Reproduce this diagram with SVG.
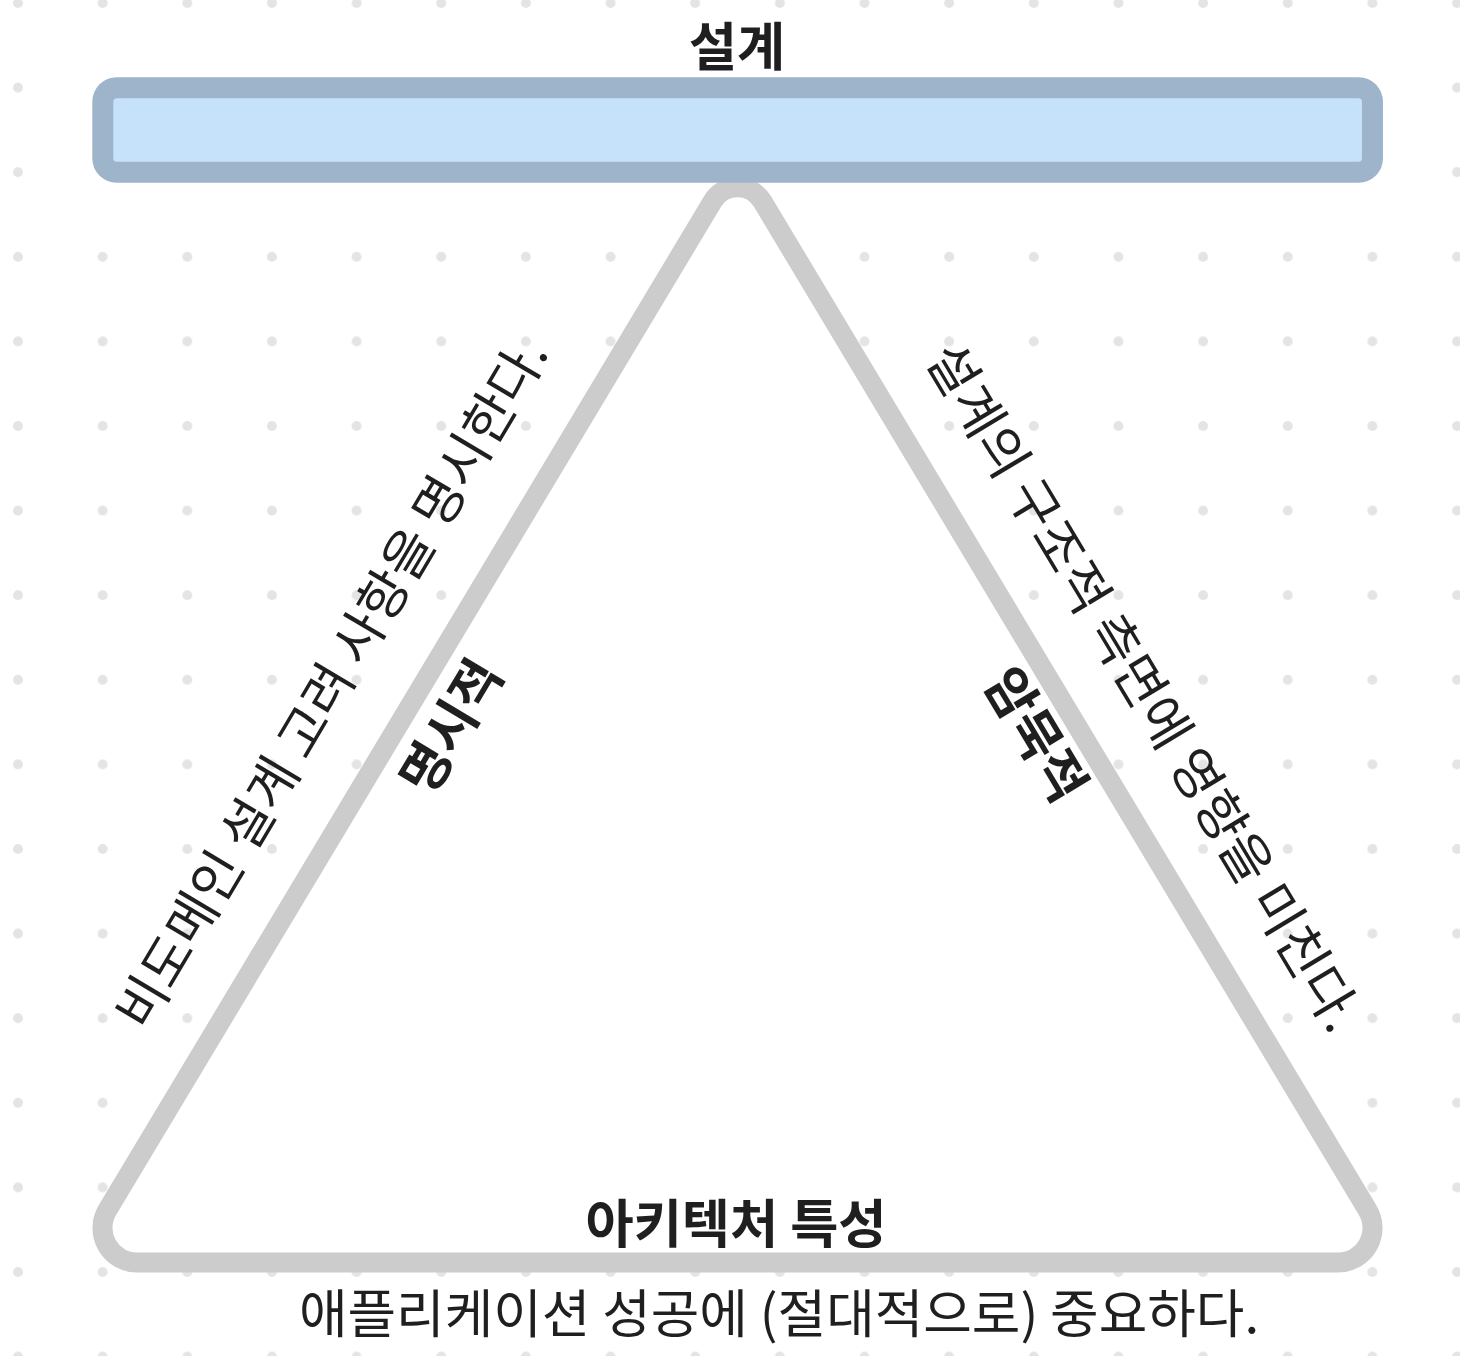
<svg xmlns="http://www.w3.org/2000/svg" width="1460" height="1356" viewBox="0 0 1460 1356">
  <defs>
    <pattern id="dots" patternUnits="userSpaceOnUse" x="18" y="3" width="84.65" height="84.6">
      <circle cx="0" cy="0" r="5" fill="#e4e4e4"/>
      <circle cx="84.65" cy="0" r="5" fill="#e4e4e4"/>
      <circle cx="0" cy="84.6" r="5" fill="#e4e4e4"/>
      <circle cx="84.65" cy="84.6" r="5" fill="#e4e4e4"/>
    </pattern>
    <style>
      .t { font-family: "Noto Sans CJK KR", "Noto Sans", sans-serif; fill: #1f1f1f; }
      .b { font-weight: 700; font-size: 52.4px; }
      .r { font-weight: 400; font-size: 52.8px; }
    </style>
  </defs>
  <rect x="0" y="0" width="1460" height="1356" fill="#ffffff"/>
  <rect x="0" y="0" width="1460" height="1356" fill="url(#dots)"/>

  <g id="architecture-characteristics">
    <path d="M 712.6 201.4 A 29 29 0 0 1 762.4 201.4 L 1367.6 1210.2 A 34.5 34.5 0 0 1 1338 1262.5 L 137 1262.5 A 34.5 34.5 0 0 1 107.4 1210.2 Z" fill="#ffffff" stroke="#cccccc" stroke-width="20" stroke-linejoin="round"/>
    <text class="t b" x="736" y="1243" text-anchor="middle">아키텍처 특성</text>
  </g>

  <g id="design">
    <rect x="102.8" y="87.7" width="1269.7" height="84.5" rx="14" ry="14" fill="#c5e2fa" stroke="#9eb4cb" stroke-width="21"/>
    <text class="t b" x="737" y="66" text-anchor="middle">설계</text>
  </g>

  <g id="connectors">
    <g id="explicit-edge">
      <text class="t r" text-anchor="middle" transform="translate(348 692.8) rotate(-59.3)">비도메인 설계 고려 사항을 명시한다.</text>
      <text class="t b" text-anchor="middle" transform="translate(467.3 736.4) rotate(-59.04)">명시적</text>
    </g>
    <g id="implicit-edge">
      <text class="t r" text-anchor="middle" transform="translate(1127.6 697) rotate(59.04)">설계의 구조적 측면에 영향을 미친다.</text>
      <text class="t b" text-anchor="middle" transform="translate(1019.6 744.3) rotate(59.04)">암묵적</text>
    </g>
  </g>

  <g id="note">
    <text class="t r" x="779" y="1333" text-anchor="middle">애플리케이션 성공에 (절대적으로) 중요하다.</text>
  </g>
</svg>
